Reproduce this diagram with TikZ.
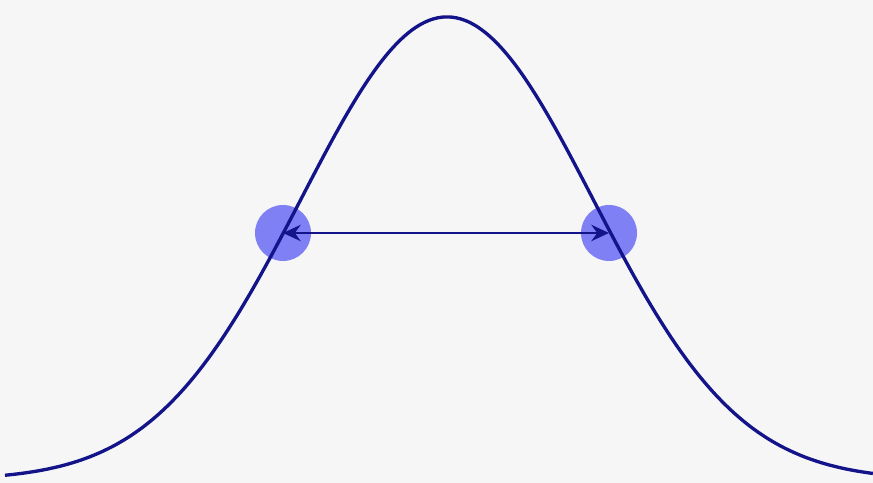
\documentclass[tikz,border=0pt]{standalone}
\usepackage{tikz}
\usetikzlibrary{arrows.meta,calc,positioning}

\definecolor{bgcol}{RGB}{246,246,246}
\definecolor{curvecol}{RGB}{20,20,138}
\definecolor{dotcol}{RGB}{128,128,245}

\begin{document}
\begin{tikzpicture}[x=1cm,y=1cm,
    dot/.style={circle,fill=dotcol,draw=none,minimum size=.56cm,inner sep=0pt},
    bell/.style={curvecol,line width=.95pt,line join=round},
    span/.style={curvecol,line width=.8pt,{Stealth[length=5pt,width=4.6pt]}-{Stealth[length=5pt,width=4.6pt]}}]
  \fill[bgcol] (0,0) rectangle (8.73,4.83);
  \useasboundingbox (0,0) rectangle (8.73,4.83);
  \node[dot] (lft) at (2.83,2.50) {};
  \node[dot] (rgt) at (6.09,2.50) {};
  % gaussian, mean 4.47, sd 1.46
  \draw[bell] plot[domain=0.05:8.73,samples=220,smooth]
    (\x,{0.03+4.63*exp(-((\x-4.47)^2)/(2*1.46^2))});
  \draw[span] (lft.center) -- (rgt.center);
\end{tikzpicture}
\end{document}
